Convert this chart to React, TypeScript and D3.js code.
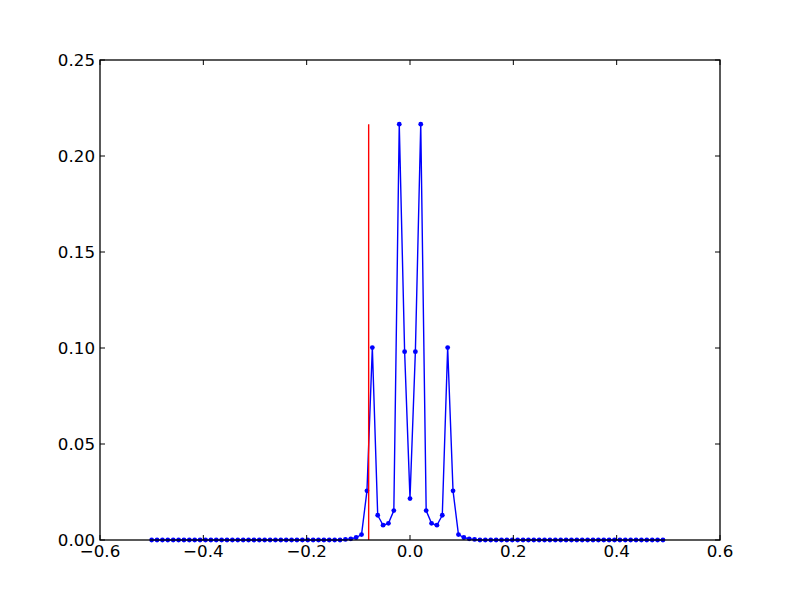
import React from "react";
import * as d3 from "d3";

const xValues: number[] = [
  -0.5, -0.4896, -0.4792, -0.4688, -0.4583, -0.4479, -0.4375, -0.4271, -0.4167, -0.4063,
  -0.3958, -0.3854, -0.375, -0.3646, -0.3542, -0.3438, -0.3333, -0.3229, -0.3125, -0.3021,
  -0.2917, -0.2813, -0.2708, -0.2604, -0.25, -0.2396, -0.2292, -0.2188, -0.2083, -0.1979,
  -0.1875, -0.1771, -0.1667, -0.1563, -0.1458, -0.1354, -0.125, -0.1146, -0.1042, -0.0938,
  -0.0833, -0.0729, -0.0625, -0.0521, -0.0417, -0.0313, -0.0208, -0.0104, 0, 0.0104,
  0.0208, 0.0313, 0.0417, 0.0521, 0.0625, 0.0729, 0.0833, 0.0938, 0.1042, 0.1146,
  0.125, 0.1354, 0.1458, 0.1563, 0.1667, 0.1771, 0.1875, 0.1979, 0.2083, 0.2188,
  0.2292, 0.2396, 0.25, 0.2604, 0.2708, 0.2813, 0.2917, 0.3021, 0.3125, 0.3229,
  0.3333, 0.3438, 0.3542, 0.3646, 0.375, 0.3854, 0.3958, 0.4063, 0.4167, 0.4271,
  0.4375, 0.4479, 0.4583, 0.4688, 0.4792, 0.4896,
];

const yValues: number[] = [
  0, 0, 0, 0, 0, 0, 0, 0, 0, 0,
  0, 0, 0, 0, 0, 0, 0, 0, 0, 0,
  0, 0, 0, 0, 0, 0, 0, 0, 0, 0,
  0, 0, 0, 0, 0, 0, 0.0003, 0.0006, 0.0013, 0.0028,
  0.0256, 0.1002, 0.0129, 0.0077, 0.0087, 0.0153, 0.2166, 0.0981, 0.0216, 0.0981,
  0.2166, 0.0153, 0.0087, 0.0077, 0.0129, 0.1002, 0.0256, 0.0028, 0.0013, 0.0006,
  0.0003, 0, 0, 0, 0, 0, 0, 0, 0, 0,
  0, 0, 0, 0, 0, 0, 0, 0, 0, 0,
  0, 0, 0, 0, 0, 0, 0, 0, 0, 0,
  0, 0, 0, 0, 0, 0,
];

const markerX = -0.08;
const markerTop = 0.2166;

const xTicks: number[] = [-0.6, -0.4, -0.2, 0.0, 0.2, 0.4, 0.6];
const xTickLabels: string[] = ["\u22120.6", "\u22120.4", "\u22120.2", "0.0", "0.2", "0.4", "0.6"];
const yTicks: number[] = [0, 0.05, 0.1, 0.15, 0.2, 0.25];
const yTickLabels: string[] = ["0.00", "0.05", "0.10", "0.15", "0.20", "0.25"];

export default function App() {
  const W = 800, H = 600;
  const left = 100, right = 720, top = 60, bottom = 540;
  const x = d3.scaleLinear().domain([-0.6, 0.6]).range([left, right]);
  const y = d3.scaleLinear().domain([0, 0.25]).range([bottom, top]);
  const pts: [number, number][] = xValues.map((v, i) => [v, yValues[i]]);
  const line = d3.line<[number, number]>().x(d => x(d[0])).y(d => y(d[1]));
  const font = "DejaVu Sans, sans-serif";
  const fs = 16.7;
  const tl = 5;
  return (
    <svg width={W} height={H} style={{ position: "absolute", left: 0, top: 0, background: "#fff" }}>
      <rect x={0} y={0} width={W} height={H} fill="#fff" />
      <path d={line(pts) || ""} fill="none" stroke="#0000ff" strokeWidth={1.4} strokeLinejoin="round" />
      {pts.map((d, i) => (
        <circle key={i} cx={x(d[0])} cy={y(d[1])} r={2.4} fill="#0000ff" />
      ))}
      <line x1={x(markerX)} x2={x(markerX)} y1={y(0)} y2={y(markerTop)} stroke="#ff0000" strokeWidth={1.4} />
      <rect x={left} y={top} width={right - left} height={bottom - top} fill="none" stroke="#000" strokeWidth={1.3} />
      {xTicks.map((t, i) => (
        <g key={"x" + i}>
          <line x1={x(t)} x2={x(t)} y1={bottom} y2={bottom - tl} stroke="#000" strokeWidth={1} />
          <line x1={x(t)} x2={x(t)} y1={top} y2={top + tl} stroke="#000" strokeWidth={1} />
          <text x={x(t)} y={557} textAnchor="middle" fontFamily={font} fontSize={fs} fill="#000">{xTickLabels[i]}</text>
        </g>
      ))}
      {yTicks.map((t, i) => (
        <g key={"y" + i}>
          <line x1={left} x2={left + tl} y1={y(t)} y2={y(t)} stroke="#000" strokeWidth={1} />
          <line x1={right} x2={right - tl} y1={y(t)} y2={y(t)} stroke="#000" strokeWidth={1} />
          <text x={95} y={y(t) + 6} textAnchor="end" fontFamily={font} fontSize={fs} fill="#000">{yTickLabels[i]}</text>
        </g>
      ))}
    </svg>
  );
}
